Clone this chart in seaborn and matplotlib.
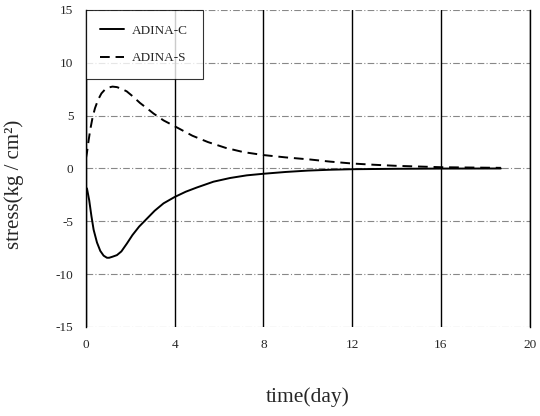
import matplotlib
matplotlib.use("Agg")
import matplotlib.pyplot as plt
import seaborn as sns
import pandas as pd

# Data
t_c = [0.0, 0.05, 0.15, 0.25, 0.35, 0.5, 0.65, 0.8, 0.95, 1.05, 1.2, 1.4, 1.6, 1.85,
       2.1, 2.4, 2.75, 3.1, 3.5, 4.0, 4.5, 5.0, 5.75, 6.5, 7.25, 8.0, 9.0, 10.0, 11.0,
       12.0, 14.0, 16.0, 18.7]
v_c = [-1.8, -1.9, -3.0, -4.5, -5.8, -7.0, -7.8, -8.25, -8.45, -8.45, -8.35, -8.2, -7.85, -7.1,
       -6.3, -5.5, -4.75, -4.0, -3.3, -2.7, -2.2, -1.8, -1.25, -0.9, -0.65, -0.5, -0.33, -0.2, -0.12,
       -0.07, -0.03, -0.01, 0.0]

t_s = [0.0, 0.05, 0.12, 0.2, 0.3, 0.41, 0.55, 0.7, 0.85, 1.0, 1.2, 1.4, 1.6, 1.84, 2.1,
       2.44, 2.75, 3.05, 3.5, 4.0, 4.8, 5.5, 6.3, 7.1, 8.0, 9.0, 10.1, 11.0, 12.0, 13.0,
       14.0, 16.0, 18.7]
v_s = [0.95, 1.5, 2.6, 3.7, 4.8, 5.7, 6.5, 7.1, 7.45, 7.65, 7.75, 7.7, 7.55, 7.3, 6.85,
       6.2, 5.7, 5.2, 4.55, 4.0, 3.1, 2.5, 1.95, 1.55, 1.27, 1.05, 0.85, 0.65, 0.47, 0.35,
       0.25, 0.12, 0.06]

series_names = ["ADINA-C", "ADINA-S"]
x_ticks = [0, 4, 8, 12, 16, 20]
y_ticks = [15, 10, 5, 0, -5, -10, -15]

df = pd.concat([
    pd.DataFrame({"time": t_c, "stress": v_c, "series": series_names[0]}),
    pd.DataFrame({"time": t_s, "stress": v_s, "series": series_names[1]}),
])

sns.set_theme(style="white")
plt.rcParams["font.family"] = ["Liberation Serif", "DejaVu Serif"]

fig = plt.figure(figsize=(5.4, 4.16), dpi=100)
ax = fig.add_axes([0.159, 0.214, 0.822, 0.762])

# grid
for y in y_ticks:
    ax.axhline(y, color="#888888", lw=0.8, ls=(0, (6, 2, 1, 2)), zorder=0)
for x in x_ticks:
    ax.axvline(x, color="black", lw=1.0, zorder=1)

sns.lineplot(data=df, x="time", y="stress", hue="series", style="series",
             palette=["black", "black"], dashes={"ADINA-C": "", "ADINA-S": (5, 3)},
             linewidth=1.4, ax=ax, sort=True, zorder=3)

ax.set_xlim(0, 20)
ax.set_ylim(-15, 15)
ax.set_xticks(x_ticks)
ax.set_yticks(y_ticks)
ax.set_xticklabels([str(v) for v in x_ticks], fontsize=9.5)
ax.set_yticklabels([str(v) for v in y_ticks], fontsize=9.5)
ax.tick_params(length=0, pad=9)
for s in ["top", "bottom"]:
    ax.spines[s].set_visible(False)
for s in ["left", "right"]:
    ax.spines[s].set_color("black")
    ax.spines[s].set_linewidth(1.0)

ax.set_xlabel("time(day)", fontsize=15.5, labelpad=26)
ax.set_ylabel("stress(kg / cm²)", fontsize=15)
ax.yaxis.set_label_coords(-0.14, 0.45)

leg = ax.legend(title=None, loc="upper left", fontsize=9.5, frameon=True,
                fancybox=False, edgecolor="black", borderpad=1.1,
                labelspacing=1.15, handlelength=1.8, handletextpad=0.6,
                borderaxespad=0.0)
leg.get_frame().set_linewidth(0.8)

fig.savefig("out.png", dpi=100)
